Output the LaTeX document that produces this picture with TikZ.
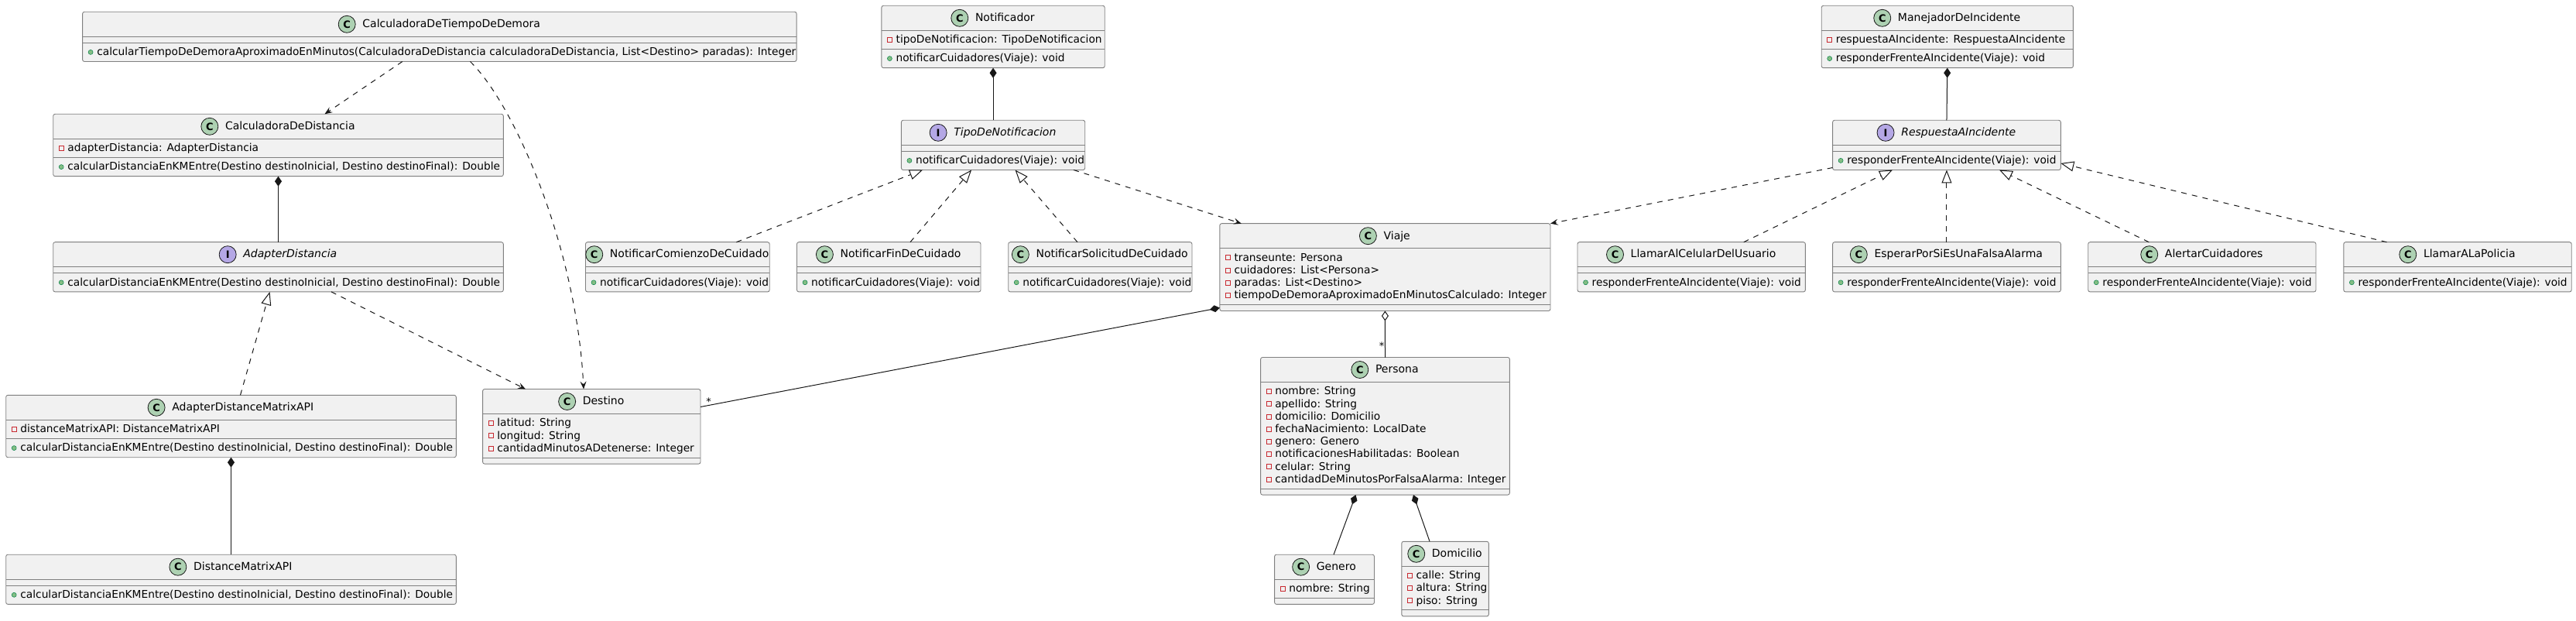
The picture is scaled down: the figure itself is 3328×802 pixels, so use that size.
\documentclass[tikz,border=0pt]{standalone}
\usepackage{fontspec}
\setmainfont{DejaVu Sans}
\usetikzlibrary{arrows.meta}
\usetikzlibrary{positioning}
\definecolor{boxfill}{HTML}{F1F1F1}
\definecolor{boxline}{HTML}{808080}
\definecolor{relline}{HTML}{181818}
\definecolor{clsicon}{HTML}{ADD1B2}
\definecolor{ifcicon}{HTML}{B4A7E5}
\definecolor{privred}{HTML}{C82930}
\definecolor{pubfill}{HTML}{84BE84}
\definecolor{publine}{HTML}{038048}

\begin{document}
\begin{tikzpicture}[x=1pt,y=-1pt,font=\fontsize{14}{16}\selectfont,
  cbox/.style={draw=boxline,line width=0.9pt,fill=boxfill,rounded corners=2.5pt,inner sep=0pt,outer sep=0pt},
  sep/.style={draw=boxline,line width=0.9pt},
  ctitle/.style={inner sep=0pt,text height=11.6pt,text depth=3pt},
  ititle/.style={ctitle,font=\fontsize{14}{16}\selectfont\itshape},
  cicon/.style={circle,draw=relline,line width=0.8pt,fill=clsicon,minimum size=22pt,inner sep=0pt,font=\fontsize{13}{13}\selectfont\bfseries},
  iicon/.style={cicon,fill=ifcicon},
  attr/.style={anchor=west,inner sep=0pt,text height=11.6pt,text depth=3pt,font=\fontsize{13.75}{16}\selectfont},
  privsq/.style={rectangle,draw=privred,line width=0.8pt,minimum size=6pt,inner sep=0pt},
  pubdot/.style={circle,fill=pubfill,draw=publine,line width=0.5pt,minimum size=6pt,inner sep=0pt},
  rel/.style={draw=relline,line width=1pt},
  dep/.style={rel,dash pattern=on 7pt off 7pt,arrows={-Stealth[length=10pt,width=8pt,inset=4pt]}},
  impl/.style={rel,dash pattern=on 7pt off 7pt,arrows={-Triangle[open,length=17pt,width=13pt]}},
  comp/.style={rel,arrows={Diamond[length=13pt,width=9pt]-}},
  aggr/.style={rel,arrows={Diamond[open,length=13pt,width=9pt]-}},
  mult/.style={inner sep=0pt,font=\fontsize{13}{13}\selectfont}]
\path[use as bounding box,fill=white] (0,0) rectangle (3328,802);

% class boxes: name/left/right/top/attributes/methods
\foreach \n/\xa/\xb/\t/\a/\m in {
  cdtd/106.6/1029.1/15.3/0/1, cdd/68.7/650.3/147.3/1/1, ad/68.7/650.3/312.7/0/1,
  admapi/7.7/589.3/510.3/1/1, dmapi/7.7/589.3/716.2/0/1, destino/623.6/905/502.5/3/0,
  notif/1138.9/1427.2/7.3/1/1, tdn/1164.4/1401.7/155.3/0/1,
  ncdc/756.5/994.2/312.7/0/1, nfdc/1029.5/1267/312.7/0/1, nsdc/1302.7/1540/312.7/0/1,
  viaje/1575.8/2003/288.7/4/0, persona/1628.6/1950.4/461.5/8/0,
  genero/1646.6/1775.5/716.2/1/0, domicilio/1810.8/1923.3/699.3/3/0,
  manejador/2353.2/2678.4/7.3/1/1, rai/2367.6/2662.3/155.3/0/1,
  lacdu/2038/2332.4/312.7/0/1, epseufa/2367.6/2662.3/312.7/0/1,
  ac/2697.7/2992/312.7/0/1, lalp/3027.8/3322.2/312.7/0/1}
{
  \pgfmathsetmacro\h{48+16.2*(\a+\m)}
  \node[cbox,minimum width={\xb-\xa},minimum height=\h] (\n) at ({(\xa+\xb)/2},{\t+\h/2}) {};
  \draw[sep] (\xa,{\t+32}) -- (\xb,{\t+32});
  \draw[sep] (\xa,{\t+40+16.2*\a}) -- (\xb,{\t+40+16.2*\a});
}

% titles
\foreach \n/\s in {cdtd/CalculadoraDeTiempoDeDemora, cdd/CalculadoraDeDistancia,
  admapi/AdapterDistanceMatrixAPI, dmapi/DistanceMatrixAPI, destino/Destino,
  notif/Notificador, ncdc/NotificarComienzoDeCuidado, nfdc/NotificarFinDeCuidado,
  nsdc/NotificarSolicitudDeCuidado, viaje/Viaje, persona/Persona, genero/Genero,
  domicilio/Domicilio, manejador/ManejadorDeIncidente, lacdu/LlamarAlCelularDelUsuario,
  epseufa/EsperarPorSiEsUnaFalsaAlarma, ac/AlertarCuidadores, lalp/LlamarALaPolicia}
{
  \node[ctitle] (\n-t) at ([xshift=15.3pt,yshift=-16pt]\n.north) {\s};
  \node[cicon,left=8.6pt of \n-t] (\n-i) {C};
}
\foreach \n/\s in {ad/AdapterDistancia, tdn/TipoDeNotificacion, rai/RespuestaAIncidente}
{
  \node[ititle] (\n-t) at ([xshift=15.3pt,yshift=-16pt]\n.north) {\s};
  \node[iicon,left=8.6pt of \n-t] (\n-i) {I};
}

% members: left/row/visibility/text
\foreach \xa/\yy/\k/\s [count=\c] in {
  {106.6/67.4/pubdot/calcularTiempoDeDemoraAproximadoEnMinutos(CalculadoraDeDistancia calculadoraDeDistancia, List<Destino> paradas): Integer},
  68.7/191.4/privsq/adapterDistancia: AdapterDistancia,
  {68.7/215.6/pubdot/calcularDistanciaEnKMEntre(Destino destinoInicial, Destino destinoFinal): Double},
  {68.7/364.8/pubdot/calcularDistanciaEnKMEntre(Destino destinoInicial, Destino destinoFinal): Double},
  7.7/554.4/privsq/distanceMatrixAPI: DistanceMatrixAPI,
  {7.7/578.6/pubdot/calcularDistanciaEnKMEntre(Destino destinoInicial, Destino destinoFinal): Double},
  {7.7/768.3/pubdot/calcularDistanciaEnKMEntre(Destino destinoInicial, Destino destinoFinal): Double},
  623.6/546.6/privsq/latitud: String,
  623.6/562.8/privsq/longitud: String,
  623.6/579.0/privsq/cantidadMinutosADetenerse: Integer,
  1138.9/51.4/privsq/tipoDeNotificacion: TipoDeNotificacion,
  1138.9/75.6/pubdot/notificarCuidadores(Viaje): void,
  1164.4/207.4/pubdot/notificarCuidadores(Viaje): void,
  756.5/364.8/pubdot/notificarCuidadores(Viaje): void,
  1029.5/364.8/pubdot/notificarCuidadores(Viaje): void,
  1302.7/364.8/pubdot/notificarCuidadores(Viaje): void,
  1575.8/332.8/privsq/transeunte: Persona,
  1575.8/349.0/privsq/cuidadores: List<Persona>,
  1575.8/365.2/privsq/paradas: List<Destino>,
  1575.8/381.4/privsq/tiempoDeDemoraAproximadoEnMinutosCalculado: Integer,
  1628.6/505.6/privsq/nombre: String,
  1628.6/521.8/privsq/apellido: String,
  1628.6/538.0/privsq/domicilio: Domicilio,
  1628.6/554.2/privsq/fechaNacimiento: LocalDate,
  1628.6/570.4/privsq/genero: Genero,
  1628.6/586.6/privsq/notificacionesHabilitadas: Boolean,
  1628.6/602.8/privsq/celular: String,
  1628.6/619.0/privsq/cantidadDeMinutosPorFalsaAlarma: Integer,
  1646.6/760.3/privsq/nombre: String,
  1810.8/743.4/privsq/calle: String,
  1810.8/759.6/privsq/altura: String,
  1810.8/775.8/privsq/piso: String,
  2353.2/51.4/privsq/respuestaAIncidente: RespuestaAIncidente,
  2353.2/75.6/pubdot/responderFrenteAIncidente(Viaje): void,
  2367.6/207.4/pubdot/responderFrenteAIncidente(Viaje): void,
  2038/364.8/pubdot/responderFrenteAIncidente(Viaje): void,
  2367.6/364.8/pubdot/responderFrenteAIncidente(Viaje): void,
  2697.7/364.8/pubdot/responderFrenteAIncidente(Viaje): void,
  3027.8/364.8/pubdot/responderFrenteAIncidente(Viaje): void}
{
  \node[\k] (v\c) at ({\xa+10.5},\yy) {};
  \node[attr] (r\c) at ({\xa+18.5},\yy) {\s};
}

% relations
\draw[dep] ([xshift=-48pt]cdtd.south) -- ([xshift=60pt]cdd.north);
\draw[dep] ([xshift=39.6pt]cdtd.south) .. controls +(57.5,55.7) and +(-9,-182.3) .. ([xshift=-10.3pt]destino.north);
\draw[comp] (cdd.south) -- (ad.north);
\draw[impl] ([xshift=12pt]admapi.north) -- ([xshift=-11pt]ad.south);
\draw[dep] ([xshift=68.5pt]ad.south) -- ([xshift=-85.3pt]destino.north);
\draw[comp] (admapi.south) -- (dmapi.north);
\draw[comp] (notif.south) -- (tdn.north);
\draw[impl] ([xshift=76pt]ncdc.north) -- ([xshift=-91pt]tdn.south);
\draw[impl] ([xshift=27.7pt]nfdc.north) -- ([xshift=-28pt]tdn.south);
\draw[impl] ([xshift=-29.4pt]nsdc.north) -- ([xshift=28.5pt]tdn.south);
\draw[dep] ([xshift=104pt]tdn.south) -- ([xshift=-185.6pt]viaje.north);
\draw[dep] ([yshift=3pt]rai.south west) -- (viaje.north east);
\draw[comp] ([yshift=4pt]viaje.south west) -- ([yshift=-23pt]destino.north east);
\draw[aggr] (viaje.south) -- (persona.north);
\draw[comp] ([xshift=-38pt]persona.south) -- ([xshift=12pt]genero.north);
\draw[comp] ([xshift=36.5pt]persona.south) -- ([xshift=-20pt]domicilio.north);
\draw[comp] (manejador.south) -- (rai.north);
\draw[impl] ([xshift=67.5pt]lacdu.north) -- ([xshift=-70pt]rai.south);
\draw[impl] (epseufa.north) -- (rai.south);
\draw[impl] ([xshift=-68.6pt]ac.north) -- ([xshift=68pt]rai.south);
\draw[impl] ([xshift=-91.5pt]lalp.north) -- ([yshift=8.6pt]rai.south east);

% multiplicities
\node[mult] (m1) at (915.5,518.7) {*};
\node[mult] (m2) at (1785,446.3) {*};
\end{tikzpicture}
\end{document}
